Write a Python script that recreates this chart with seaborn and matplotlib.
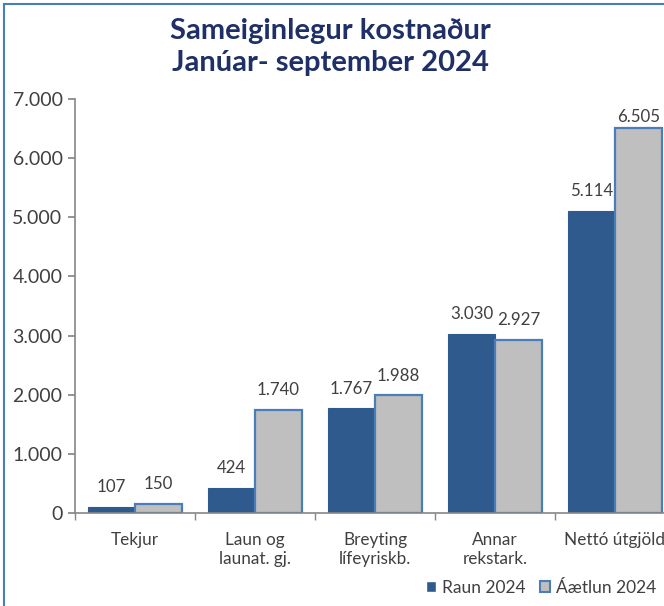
import pandas as pd
import matplotlib.pyplot as plt
import seaborn as sb
from matplotlib.patches import Rectangle
from matplotlib.ticker import FuncFormatter, FixedLocator

categories = ["Tekjur", "Laun og\nlaunat. gj.", "Breyting\nlífeyriskb.", "Annar\nrekstark.", "Nettó útgjöld"]
raun_2024 = [107, 424, 1767, 3030, 5114]
aaetlun_2024 = [150, 1740, 1988, 2927, 6505]
series = ["Raun 2024", "Áætlun 2024"]

df = pd.DataFrame({
    "flokkur": categories * 2,
    "gildi": raun_2024 + aaetlun_2024,
    "rod": [series[0]] * len(categories) + [series[1]] * len(categories),
})

dark = "#2E5A8E"
grey = "#BFBFBF"
edge = "#4A7EBB"
txt = "#404040"

sb.set_theme(style="white")
plt.rcParams["font.family"] = ["Lato", "DejaVu Sans"]

fig = plt.figure(figsize=(6.64, 6.06), dpi=100)
ax = fig.add_axes([75 / 664, 93 / 606, 600 / 664, 414 / 606])

sb.barplot(data=df, x="flokkur", y="gildi", hue="rod", palette=[dark, grey],
           width=0.78, saturation=1, ax=ax, legend=True)

# grey bars get a blue outline
for bar in ax.containers[1]:
    bar.set_edgecolor(edge)
    bar.set_linewidth(1.6)
for bar in ax.containers[0]:
    bar.set_edgecolor(dark)
    bar.set_linewidth(0.8)

# labels sit above the bars, but stay inside the plot area (like excel)
for cont in ax.containers:
    for bar in cont:
        h = bar.get_height()
        ax.text(bar.get_x() + bar.get_width() / 2, min(h + 335, 7000 - 300),
                f"{int(h):,}".replace(",", "."), ha="center", va="center",
                fontsize=12.2, color=txt)

ax.set_ylim(0, 7000)
ax.set_xlim(-0.5, len(categories) - 0.5)
ax.set_yticks(range(0, 7001, 1000))
ax.yaxis.set_major_formatter(FuncFormatter(lambda v, p: f"{int(v):,}".replace(",", ".")))
ax.set_xlabel("")
ax.set_ylabel("")
ax.tick_params(axis="y", left=True, length=5, color="#868686", labelsize=14, labelcolor=txt, pad=4)
ax.tick_params(axis="x", bottom=False, labelsize=12.3, labelcolor=txt, pad=8)
ax.xaxis.set_minor_locator(FixedLocator([i - 0.5 for i in range(len(categories) + 1)]))
ax.tick_params(axis="x", which="minor", bottom=True, length=5, color="#868686")
for s in ["top", "right"]:
    ax.spines[s].set_visible(False)
for s in ["left", "bottom"]:
    ax.spines[s].set_color("#868686")
    ax.spines[s].set_linewidth(1.2)

leg = ax.legend(loc="center left", bbox_to_anchor=(426 / 664, 18 / 606),
                bbox_transform=fig.transFigure, ncol=2, frameon=False, fontsize=12.5,
                handlelength=0.6, handleheight=0.6, handletextpad=0.35, columnspacing=0.8,
                borderaxespad=0, borderpad=0)
for t in leg.get_texts():
    t.set_color(txt)
leg.legend_handles[1].set_edgecolor(edge)
leg.legend_handles[1].set_linewidth(1.5)

fig.text(0.497, 1 - 31 / 606, "Sameiginlegur kostnaður", ha="center", va="center",
         fontsize=21, fontweight="bold", color="#1F3068")
fig.text(0.497, 1 - 63 / 606, "Janúar- september 2024", ha="center", va="center",
         fontsize=21, fontweight="bold", color="#1F3068")

fig.patches.append(Rectangle((4 / 664, -0.05), 1.2, 1 - 4 / 606 + 0.05, transform=fig.transFigure,
                             fill=False, edgecolor=edge, linewidth=1.5))

plt.savefig("out.png", dpi=100)
